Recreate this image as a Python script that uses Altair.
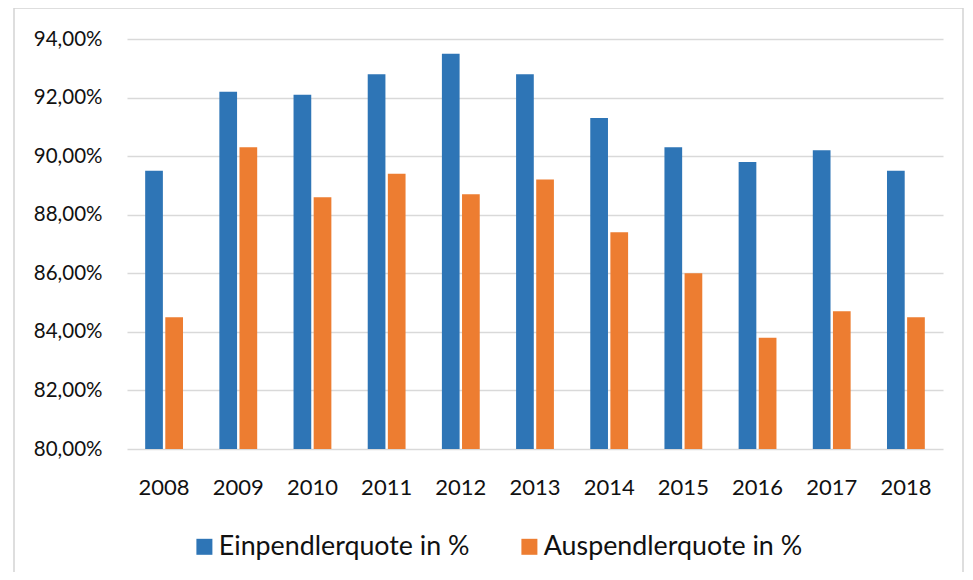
import altair as alt
import pandas as pd

years = ["2008", "2009", "2010", "2011", "2012", "2013", "2014", "2015", "2016", "2017", "2018"]
einpendler = [89.5, 92.2, 92.1, 92.8, 93.5, 92.8, 91.3, 90.3, 89.8, 90.2, 89.5]
auspendler = [84.5, 90.3, 88.6, 89.4, 88.7, 89.2, 87.4, 86.0, 83.8, 84.7, 84.5]
series = ["Einpendlerquote in %", "Auspendlerquote in %"]
colors = ["#2E75B6", "#ED7D31"]
y_ticks = [80, 82, 84, 86, 88, 90, 92, 94]

rows = []
for i, y in enumerate(years):
    rows.append({"year": y, "series": series[0], "value": einpendler[i]})
    rows.append({"year": y, "series": series[1], "value": auspendler[i]})
df = pd.DataFrame(rows)

FONT = "Lato"
W, H = 816, 410

frame = alt.Chart(pd.DataFrame({"a": [0]})).mark_rect(
    fillOpacity=0, stroke="#d4d4d4", strokeWidth=1.5
).encode(
    x=alt.value(-113), x2=alt.value(836), y=alt.value(-31), y2=alt.value(560)
)

bars = alt.Chart(df).mark_bar().encode(
    x=alt.X("year:N", sort=years, title=None,
            scale=alt.Scale(paddingInner=0.49, paddingOuter=0.245),
            axis=alt.Axis(labelAngle=0, labelFontSize=22, labelFont=FONT,
                          labelColor="#111111", ticks=False, tickSize=0,
                          domain=False, labelPadding=45,
                          labelBaseline="alphabetic")),
    xOffset=alt.XOffset("series:N", sort=series,
                        scale=alt.Scale(paddingInner=0.12)),
    y=alt.Y("value:Q", title=None,
            scale=alt.Scale(domain=[80, 94], zero=False, nice=False),
            axis=alt.Axis(values=y_ticks, grid=True, gridColor="#d9d9d9",
                          gridWidth=1.5, domain=False, ticks=False, tickSize=0,
                          labelFontSize=20.5, labelFont=FONT, labelColor="#111111",
                          labelPadding=25,
                          labelExpr="replace(format(datum.value, '.2f'), '.', ',') + '%'")),
    y2=alt.datum(80),
    color=alt.Color("series:N", sort=series,
                    scale=alt.Scale(domain=series, range=colors),
                    legend=alt.Legend(title=None, orient="none", direction="horizontal",
                                      legendX=64, legendY=494,
                                      symbolType="square", symbolSize=256,
                                      symbolStrokeWidth=0, labelLimit=0,
                                      labelFontSize=26.8, labelFont=FONT,
                                      labelColor="#111111", labelOffset=1,
                                      columnPadding=46, padding=0)),
)

chart = alt.layer(frame, bars).properties(
    width=W, height=H,
    autosize=alt.AutoSizeParams(type="none"),
    padding={"left": 119, "top": 31, "right": 22, "bottom": 123},
).configure_view(strokeWidth=0)

chart.save("out.html", embed_options={"renderer": "svg", "actions": False})
